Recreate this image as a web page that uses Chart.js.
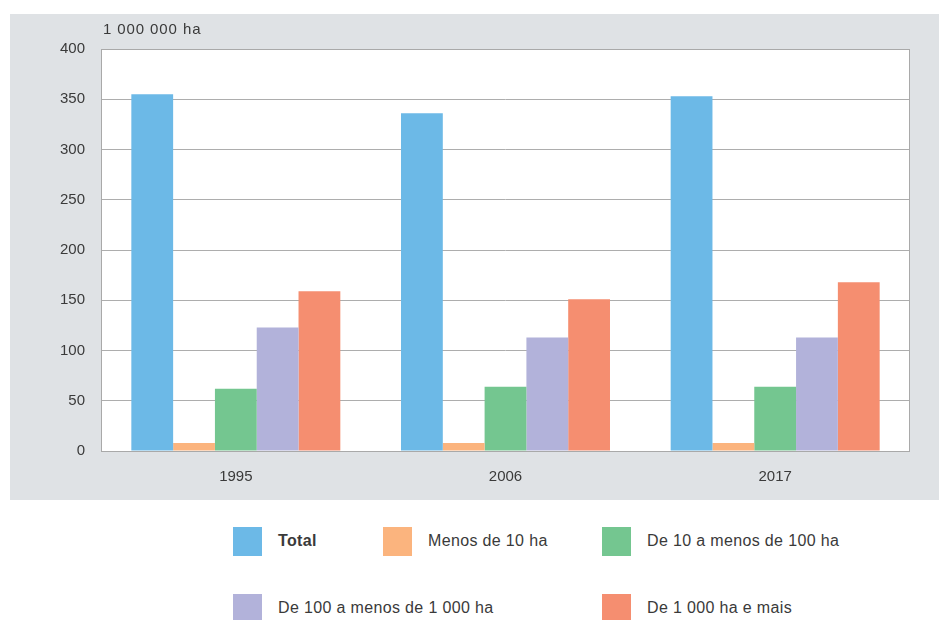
<!DOCTYPE html>
<html>
<head>
<meta charset="utf-8">
<script src="https://cdn.jsdelivr.net/npm/chart.js@4"></script>
<style>
  body { margin: 0; background: #fff; width: 939px; height: 620px; position: relative; overflow: hidden; font-family: "Liberation Sans", Arial, sans-serif; }
  #panel { position: absolute; left: 10px; top: 14px; width: 929px; height: 486px; background: #dfe2e5; }
  #legend .sw { position: absolute; width: 29px; height: 29px; }
  #legend .lb { position: absolute; font-size: 16px; color: #3a3a3a; letter-spacing: 0.35px; line-height: 18px; }
</style>
</head>
<body>
<div id="panel"><canvas id="areaChart" width="929" height="486"></canvas></div>
<div id="legend"></div>
<script>
const years = ["1995", "2006", "2017"];
const seriesNames = ["Total", "Menos de 10 ha", "De 10 a menos de 100 ha", "De 100 a menos de 1 000 ha", "De 1 000 ha e mais"];
const total = [355, 336, 353];
const menos10 = [8, 8, 8];
const de10a100 = [62, 64, 64];
const de100a1000 = [123, 113, 113];
const de1000mais = [159, 151, 168];
const yTicks = [0, 50, 100, 150, 200, 250, 300, 350, 400];
const unitLabel = "1 000 000 ha";
const colors = ["#6cb9e7", "#fbb47e", "#74c690", "#b2b2da", "#f58e70"];

const allSeries = [total, menos10, de10a100, de100a1000, de1000mais];

// frame + unit label drawn around the plot area
const framePlugin = {
    id: "frame",
    beforeDraw(chart) {
        const a = chart.chartArea;
        const ctx = chart.ctx;
        ctx.save();
        ctx.fillStyle = "#ffffff";
        ctx.fillRect(a.left, a.top, a.right - a.left, a.bottom - a.top);
        ctx.restore();
    },
    afterDraw(chart) {
        const a = chart.chartArea;
        const ctx = chart.ctx;
        ctx.save();
        ctx.strokeStyle = "#a9a9a9";
        ctx.lineWidth = 1;
        ctx.strokeRect(a.left + 0.5, a.top + 0.5, a.right - a.left - 1, a.bottom - a.top);
        ctx.fillStyle = "#3a3a3a";
        ctx.font = "15px 'Liberation Sans', Arial, sans-serif";
        ctx.letterSpacing = "0.9px";
        ctx.textBaseline = "middle";
        ctx.fillText(unitLabel, a.left + 2, a.top - 19);
        ctx.restore();
    }
};

const ctx = document.getElementById("areaChart").getContext("2d");
window.areaChartInstance = new Chart(ctx, {
    type: "bar",
    data: {
        labels: years,
        datasets: allSeries.map((vals, i) => ({
            label: seriesNames[i],
            data: vals,
            backgroundColor: colors[i],
            borderWidth: 0,
            barPercentage: 1,
            categoryPercentage: 0.775,
        })),
    },
    options: {
        responsive: false,
        animation: false,
        layout: { padding: { top: 35, right: 29, left: 0, bottom: 0 } },
        plugins: { legend: { display: false }, tooltip: { enabled: false } },
        scales: {
            x: {
                grid: { display: false, drawTicks: false },
                border: { display: false },
                ticks: { color: "#3a3a3a", font: { family: "Liberation Sans", size: 15 }, padding: 17 },
                afterFit(s) { s.height = 49; },
            },
            y: {
                min: 0,
                max: 400,
                afterBuildTicks(s) { s.ticks = yTicks.map(v => ({ value: v })); },
                grid: { color: "#adadad", drawTicks: false },
                border: { display: false },
                ticks: { color: "#3a3a3a", font: { family: "Liberation Sans", size: 15 }, padding: 16 },
                afterFit(s) { s.width = 91; },
            },
        },
    },
    plugins: [framePlugin],
});

// legend laid out like the original, two rows
const legendSlots = [[233, 527], [383, 527], [602, 527], [233, 594], [602, 594]];
const legendEl = document.getElementById("legend");
seriesNames.forEach((name, i) => {
    const [x, y] = legendSlots[i];
    const sw = document.createElement("div");
    sw.className = "sw";
    sw.style.left = x + "px";
    sw.style.top = y + "px";
    sw.style.background = colors[i];
    legendEl.appendChild(sw);
    const lb = document.createElement("div");
    lb.className = "lb";
    lb.style.left = (x + 45) + "px";
    lb.style.top = (y + 5) + "px";
    lb.textContent = name;
    if (i === 0) lb.style.fontWeight = "bold";
    legendEl.appendChild(lb);
});
</script>
</body>
</html>
